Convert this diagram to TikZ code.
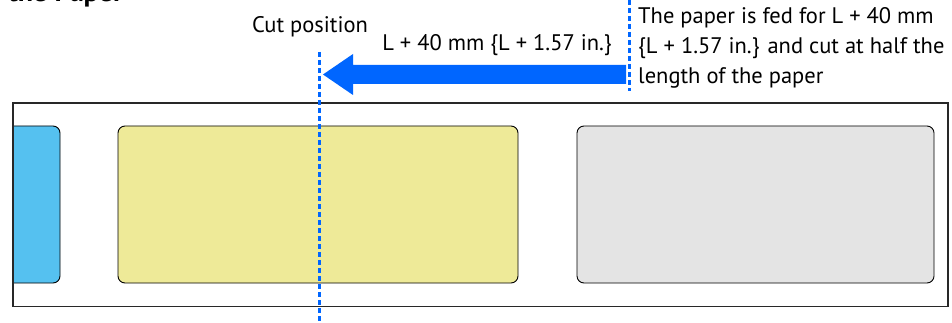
\documentclass[tikz,border=0pt]{standalone}
\usepackage{fontspec}
\setmainfont{PT Sans}
\definecolor{cutblue}{RGB}{0,102,255}
\definecolor{labelblue}{RGB}{85,193,240}
\definecolor{labelyellow}{RGB}{238,234,152}
\definecolor{labelgray}{RGB}{228,228,228}
\definecolor{edgegray}{RGB}{40,40,40}
\begin{document}
\begin{tikzpicture}[x=1pt,y=-1pt,
  paper/.style={draw=edgegray,line width=1.4pt},
  labelbox/.style={draw=black,line width=0.9pt,rounded corners=7pt},
  cutline/.style={draw=cutblue,line width=3pt,dash pattern=on 5pt off 3pt},
  feedarrow/.style={fill=cutblue,draw=none},
  txt/.style={font=\fontsize{22.5}{30}\selectfont,text=black,inner sep=0pt},
  heading/.style={font=\bfseries\fontsize{28}{32}\selectfont,text=black,inner sep=0pt}]
\useasboundingbox (0,0) rectangle (952,323);
\fill[white] (0,0) rectangle (952,323);
% heading (cut off at top)
\node[heading,anchor=base west] (head) at (8,1.5) {the Paper};
% paper strip
\draw[paper] (13,103) rectangle (948,306.5);
% labels
\begin{scope}
\clip (13,103) rectangle (948,306.5);
\filldraw[labelbox,fill=labelblue] (6,126) rectangle (60,283);
\end{scope}
\draw[paper,line width=1.4pt] (13,103) -- (13,306.5);
\filldraw[labelbox,fill=labelyellow] (118,126) rectangle (518,283);
\filldraw[labelbox,fill=labelgray] (577,126) rectangle (934,283);
% cut position line
\coordinate (cuttop) at (319,52);
\coordinate (cutbot) at (319,323);
\draw[cutline] (cuttop) -- (cutbot);
% feed start line
\coordinate (feedtop) at (629,0);
\coordinate (feedbot) at (629,91);
\draw[cutline] (feedtop) -- (feedbot);
% feed arrow
\fill[feedarrow] (626,65) -- (353,65) -- (353,54) -- (323,74.5) -- (353,95) -- (353,84) -- (626,84) -- cycle;
% texts
\node[txt,anchor=base] (cutpos) at (310,33) {Cut position};
\node[txt,anchor=base] (feedlen) at (497,50.5) {L + 40 mm \{L + 1.57 in.\}};
\node[txt,anchor=base west] (l1) at (638,24) {The paper is fed for L + 40 mm};
\node[txt,anchor=base west] (l2) at (638,54) {\{L + 1.57 in.\} and cut at half the};
\node[txt,anchor=base west] (l3) at (638,84) {length of the paper};
\end{tikzpicture}
\end{document}
